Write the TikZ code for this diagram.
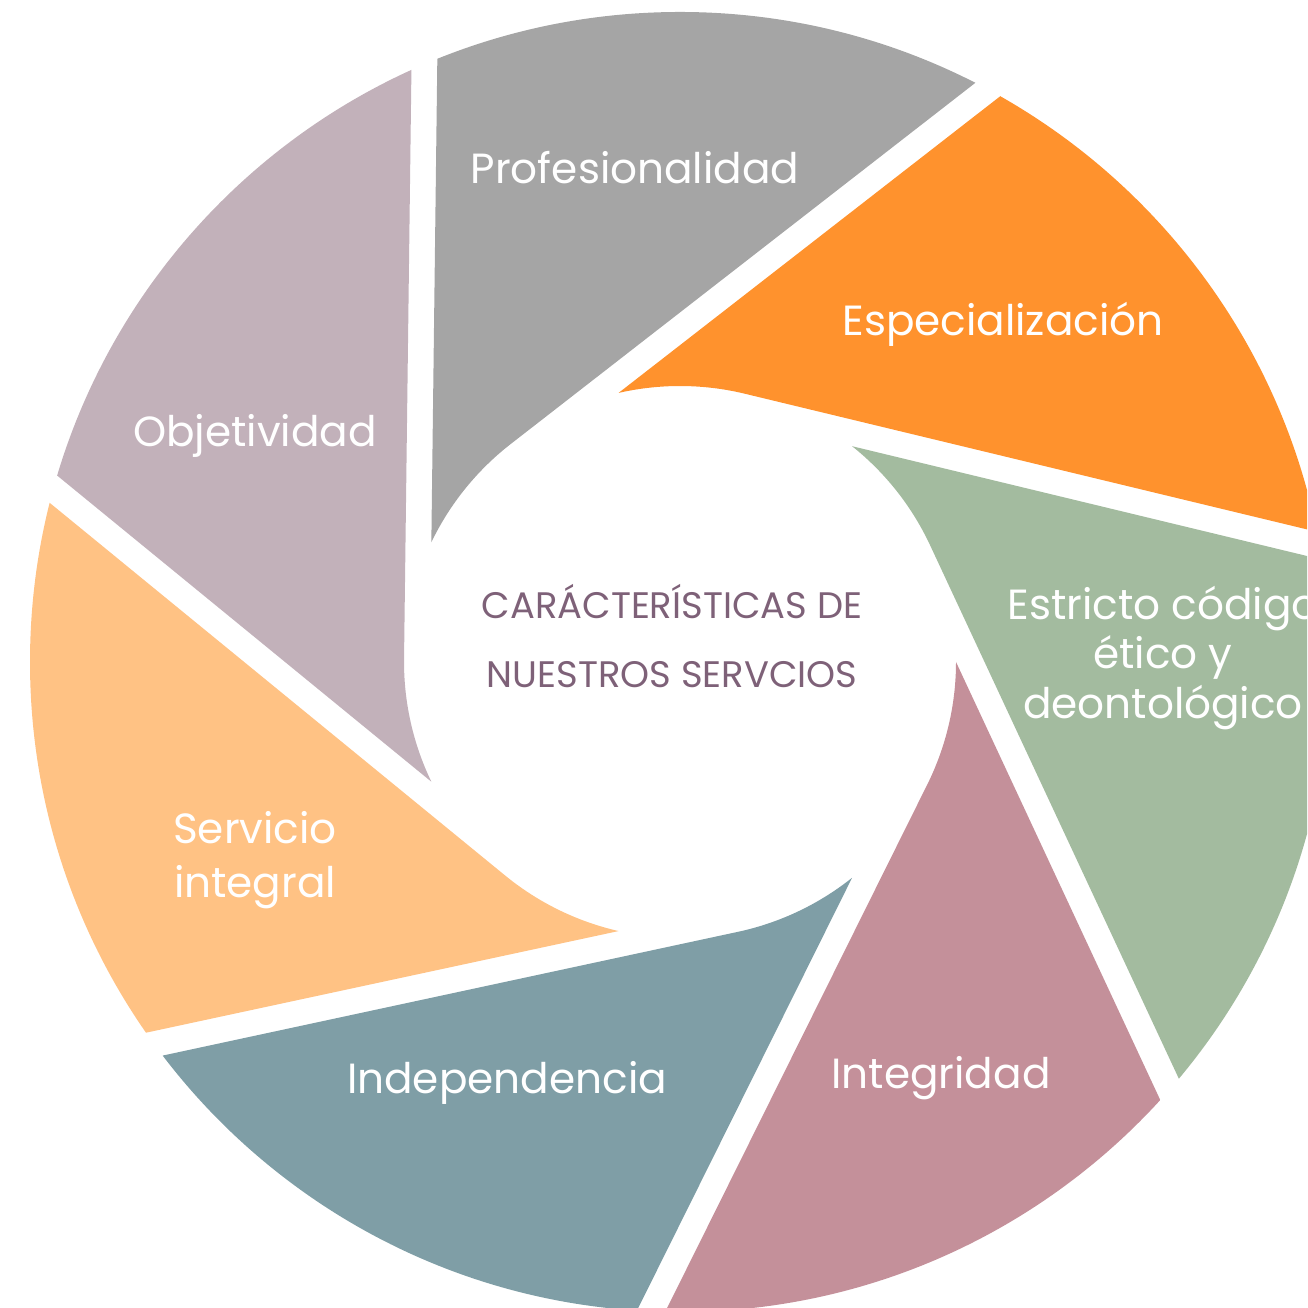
\documentclass[tikz,border=0pt]{standalone}
\usepackage{fontspec}
\setmainfont{Poppins}
\usetikzlibrary{calc}

\definecolor{pinkblade}{HTML}{C4909A}
\definecolor{greenblade}{HTML}{A3BB9F}
\definecolor{orangeblade}{HTML}{FF922D}
\definecolor{grayblade}{HTML}{A5A5A5}
\definecolor{mauveblade}{HTML}{C2B1BA}
\definecolor{peachblade}{HTML}{FFC284}
\definecolor{tealblade}{HTML}{7F9EA6}
\definecolor{hubcol}{HTML}{7E6178}

\begin{document}
\begin{tikzpicture}[
	bladetext/.style={text=white, align=center, inner sep=0pt, font=\fontsize{12}{14.2}\selectfont},
	hubtext/.style={text=hubcol, align=center, inner sep=0pt, font=\fontsize{10.5}{19.8}\selectfont}]
	\useasboundingbox (0,0) rectangle (13.07,13.08);
	\clip (0,0) rectangle (13.07,13.08);
	\coordinate (C) at (6.80,6.46);
	% shutter blades
	\begin{scope}
		\clip (C) circle (6.5);
		\foreach \t/\col in {0/pinkblade, 51.43/greenblade, 102.86/orangeblade, 154.29/grayblade, 205.71/mauveblade, 257.14/peachblade, 308.57/tealblade}{
			\pgfmathsetmacro{\q}{\t-26.43}
			\pgfmathsetmacro{\e}{\t-65}
			\pgfmathsetmacro{\f}{\t-116.43}
			\fill [\col] ($(C)+(\t:2.76)$) -- ++(\e:9) -- ($(C)+(\q:2.76)+(\f:9)$) -- ($(C)+(\q:2.76)$) arc [start angle=\q, end angle=\t, radius=2.76] -- cycle;
		}
	\end{scope}
	\node [bladetext] (prof) at (6.35,11.40) {Profesionalidad};
	\node [bladetext] (espe) at (10.03,9.84) {Especialización};
	\node [bladetext] (etic) at (11.63,6.50) {Estricto código\\ético y\\deontológico};
	\node [bladetext] (inte) at (9.41,2.30) {Integridad};
	\node [bladetext] (inde) at (5.07,2.25) {Independencia};
	\node [bladetext, font=\fontsize{12}{15.3}\selectfont] (serv) at (2.55,4.48) {Servicio\\integral};
	\node [bladetext] (obje) at (2.55,8.72) {Objetividad};
	\node [hubtext] (hub) at (6.72,6.72) {CARÁCTERÍSTICAS DE\\NUESTROS SERVCIOS};
\end{tikzpicture}
\end{document}
